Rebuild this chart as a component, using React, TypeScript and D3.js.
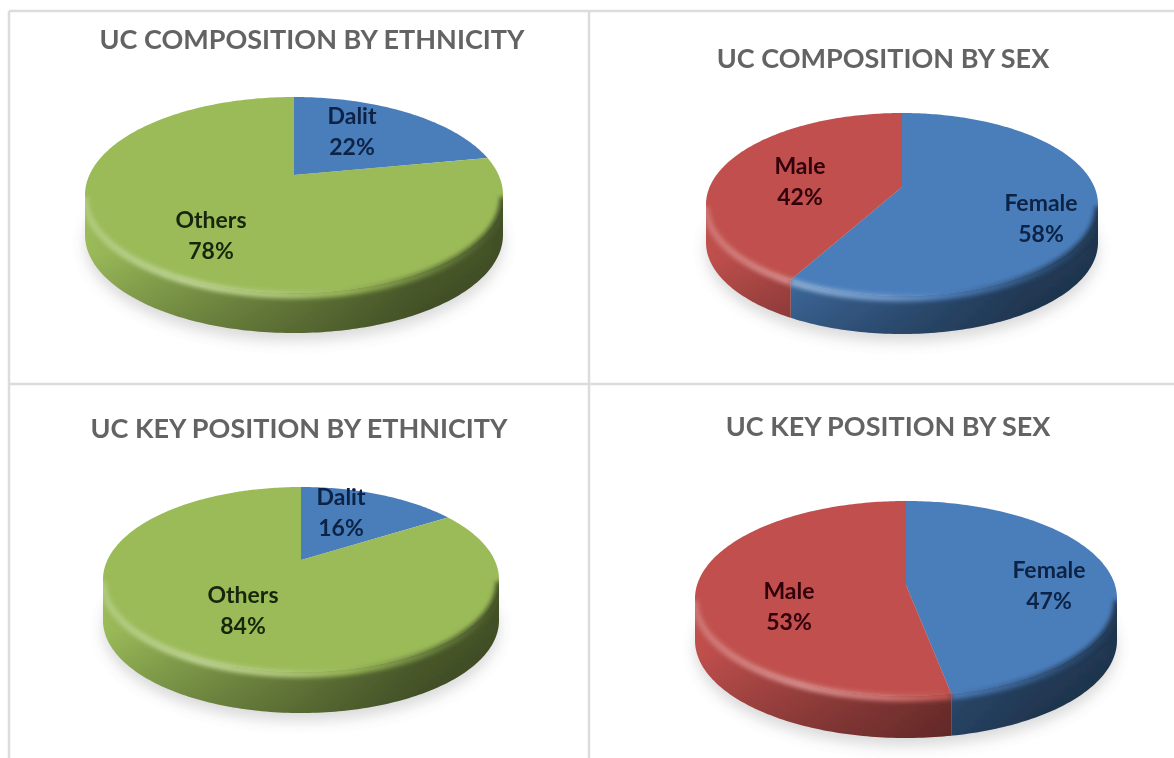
import React, { useEffect, useRef } from "react";
import * as d3 from "d3";

const ethnicityNames = ["Dalit", "Others"];
const sexNames = ["Female", "Male"];

const compositionEthnicity = [22, 78];
const compositionSex = [58, 42];
const keyPositionEthnicity = [16, 84];
const keyPositionSex = [47, 53];

const ethnicityColors = ["#4a7ebb", "#9bbb59"];
const sexColors = ["#4a7ebb", "#c0504d"];
const labelColors: Record<string, string> = {
  "#4a7ebb": "#0a2244",
  "#9bbb59": "#18280a",
  "#c0504d": "#300508",
};

const charts = [
  {
    title: "UC COMPOSITION BY ETHNICITY",
    titlePos: [312, 40],
    names: ethnicityNames,
    values: compositionEthnicity,
    colors: ethnicityColors,
    geo: { cx: 294, rx: 209, top: 97, apex: 175, bottom: 293, depth: 40 },
    labelPos: [[352, 116], [211, 220]],
  },
  {
    title: "UC COMPOSITION BY SEX",
    titlePos: [883, 59],
    names: sexNames,
    values: compositionSex,
    colors: sexColors,
    geo: { cx: 902, rx: 196, top: 113, apex: 187, bottom: 296, depth: 38 },
    labelPos: [[1041, 203], [800, 166]],
  },
  {
    title: "UC KEY POSITION BY ETHNICITY",
    titlePos: [299, 429],
    names: ethnicityNames,
    values: keyPositionEthnicity,
    colors: ethnicityColors,
    geo: { cx: 301, rx: 198, top: 487, apex: 560, bottom: 672, depth: 41 },
    labelPos: [[341, 497], [243, 595]],
  },
  {
    title: "UC KEY POSITION BY SEX",
    titlePos: [888, 427],
    names: sexNames,
    values: keyPositionSex,
    colors: sexColors,
    geo: { cx: 906, rx: 211, top: 501, apex: 585, bottom: 696, depth: 42 },
    labelPos: [[1049, 570], [789, 591]],
  },
];

const darken = (c: string, f: number) => d3.interpolateRgb(c, "#000")(f);
const lighten = (c: string, f: number) => d3.interpolateRgb(c, "#fff")(f);

export default function App() {
  const svgRef = useRef<SVGSVGElement>(null);

  useEffect(() => {
    if (!svgRef.current) return;
    const svg = d3.select(svgRef.current);
    svg.selectAll("*").remove();

    const defs = svg.append("defs");
    const blur = (id: string, dev: number) =>
      defs.append("filter").attr("id", id)
        .attr("filterUnits", "userSpaceOnUse")
        .attr("x", 0).attr("y", 0).attr("width", 1174).attr("height", 758)
        .append("feGaussianBlur").attr("stdDeviation", dev);
    blur("soft", 0.6);
    blur("glow", 2.2);
    blur("shadow", 7);

    // panel rules
    const rules = svg.append("g").attr("stroke", "#dcdcdc").attr("stroke-width", 2.5).attr("filter", "url(#soft)");
    [[9, 11, 1174, 11], [9, 11, 9, 758], [9, 384, 1174, 384], [589, 11, 589, 758]].forEach(([x1, y1, x2, y2]) => {
      rules.append("line").attr("x1", x1).attr("y1", y1).attr("x2", x2).attr("y2", y2);
    });

    const line = d3.line<[number, number]>();
    const step = Math.PI / 180;

    charts.forEach((chart, idx) => {
      const { cx, rx, top, apex, bottom, depth } = chart.geo;
      const a = apex - top;
      const b = bottom - apex;
      const k = (b - a) / (b + a);
      const A = a * (1 + k);
      const R = rx * Math.sqrt(1 - k * k);

      // circle -> perspective ellipse, angle clockwise from 12 o'clock
      const project = (t: number, dy = 0): [number, number] => {
        const w = 1 + k * Math.cos(t);
        return [cx + (R * Math.sin(t)) / w, apex + dy - (A * Math.cos(t)) / w];
      };
      const arcPoints = (t0: number, t1: number, dy = 0) =>
        d3.range(t0, t1, step).concat(t1).map((t) => project(t, dy));

      const arcs = d3.pie<number>().sort(null)(chart.values);
      const wallStart = Math.acos(-k);
      const wallEnd = 2 * Math.PI - wallStart;

      const g = svg.append("g").attr("filter", "url(#soft)");

      g.append("path")
        .attr("d", line(arcPoints(0, 2 * Math.PI, depth + 8))!)
        .attr("fill", "#8c8c8c")
        .attr("opacity", 0.32)
        .attr("filter", "url(#shadow)");

      const gradient = (id: string, color: string, stops: [number, number][]) => {
        const grad = defs.append("linearGradient").attr("id", id)
          .attr("gradientUnits", "userSpaceOnUse")
          .attr("x1", cx - rx).attr("x2", cx + rx).attr("y1", 0).attr("y2", 0);
        stops.forEach(([o, f]) => {
          grad.append("stop").attr("offset", o)
            .attr("stop-color", f >= 0 ? darken(color, f) : lighten(color, -f));
        });
      };

      const vert = `wallShade${idx}`;
      const vg = defs.append("linearGradient").attr("id", vert)
        .attr("gradientUnits", "userSpaceOnUse")
        .attr("x1", 0).attr("x2", 0).attr("y1", bottom - depth).attr("y2", bottom + depth);
      vg.append("stop").attr("offset", 0).attr("stop-color", "#000").attr("stop-opacity", 0);
      vg.append("stop").attr("offset", 1).attr("stop-color", "#000").attr("stop-opacity", 0.2);

      // silhouette keeps the blurred rim from spilling past the pie
      const clipId = `pieClip${idx}`;
      const clip = defs.append("clipPath").attr("id", clipId);
      clip.append("path").attr("d", line(arcPoints(0, 2 * Math.PI))! + "Z");

      const rims: { d: string; stroke: string }[] = [];
      arcs.forEach((d, i) => {
        const t0 = Math.max(d.startAngle, wallStart);
        const t1 = Math.min(d.endAngle, wallEnd);
        if (t1 <= t0) return;
        const color = chart.colors[i];
        const wallId = `wall${idx}-${i}`;
        const rimId = `rim${idx}-${i}`;
        gradient(wallId, color, [[0, 0.0], [0.2, 0.12], [0.5, 0.3], [0.8, 0.5], [1, 0.58]]);
        gradient(rimId, color, [[0, -0.2], [0.25, -0.35], [0.45, -0.2], [0.62, 0.02], [0.85, 0.35], [1, 0.55]]);

        const upper = arcPoints(t0, t1);
        const lower = arcPoints(t0, t1, depth).reverse();
        const wall = line([...upper, ...lower])! + "Z";
        g.append("path").attr("d", wall).attr("fill", `url(#${wallId})`);
        g.append("path").attr("d", wall).attr("fill", `url(#${vert})`);
        clip.append("path").attr("d", wall);
        rims.push({ d: line(arcPoints(t0, t1, 2))!, stroke: `url(#${rimId})` });
      });

      arcs.forEach((d, i) => {
        g.append("path")
          .attr("d", line([[cx, apex], ...arcPoints(d.startAngle, d.endAngle)])! + "Z")
          .attr("fill", chart.colors[i]);
      });

      const rimGroup = g.append("g").attr("clip-path", `url(#${clipId})`);
      rims.forEach((r) => {
        rimGroup.append("path")
          .attr("d", r.d)
          .attr("fill", "none")
          .attr("stroke", r.stroke)
          .attr("stroke-width", 7)
          .attr("filter", "url(#glow)");
      });

      const text = svg.append("g").attr("filter", "url(#soft)").attr("text-anchor", "middle")
        .attr("font-family", "Lato, 'Open Sans', sans-serif");

      text.append("text")
        .attr("x", chart.titlePos[0])
        .attr("y", chart.titlePos[1])
        .attr("dy", "0.35em")
        .attr("font-size", 27)
        .attr("font-weight", 700)
        .attr("fill", "#646464")
        .text(chart.title);

      chart.names.forEach((name, i) => {
        const [lx, ly] = chart.labelPos[i];
        const fill = labelColors[chart.colors[i]];
        const label = text.append("g")
          .attr("font-size", 23)
          .attr("font-weight", 700)
          .attr("fill", fill);
        label.append("text").attr("x", lx).attr("y", ly).attr("dy", "0.35em").text(name);
        label.append("text").attr("x", lx).attr("y", ly + 31).attr("dy", "0.35em").text(`${chart.values[i]}%`);
      });
    });
  }, []);

  return (
    <svg
      ref={svgRef}
      width={1174}
      height={758}
      style={{ position: "absolute", left: 0, top: 0, background: "#fff" }}
    />
  );
}
